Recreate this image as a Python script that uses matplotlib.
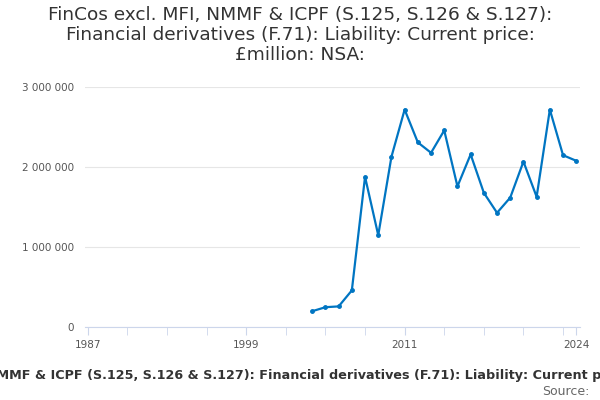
import matplotlib
matplotlib.use("Agg")
import matplotlib.pyplot as plt
from matplotlib.ticker import FuncFormatter

years = list(range(2004, 2025))
values = [0.20, 0.25, 0.26, 0.46, 1.88, 1.15, 2.13, 2.72, 2.31, 2.18, 2.46, 1.76,
          2.16, 1.68, 1.43, 1.62, 2.07, 1.63, 2.72, 2.15, 2.08]
values = [v * 1e6 for v in values]
label_years = [1987, 1999, 2011, 2024]

fig = plt.figure(figsize=(6, 4), dpi=100)
ax = fig.add_axes([0.142, 0.182, 0.825, 0.6])
ax.plot(years, values, color="#0075c2", lw=1.6, marker="o", ms=2.5)
ax.set_xlim(1986.8, 2024.3)
ax.set_ylim(0, 3e6)
ax.set_yticks([0, 1e6, 2e6, 3e6])
ax.yaxis.set_major_formatter(FuncFormatter(lambda v, p: f"{int(v):,}".replace(",", " ")))
ax.set_xticks(list(range(1987, 2024, 3)) + [2024], minor=True)
ax.set_xticks(label_years)
ax.tick_params(axis="x", which="both", length=6, color="#ccd6eb", labelsize=7.5, labelcolor="#555")
ax.tick_params(axis="y", length=0, labelsize=7.5, labelcolor="#555", pad=8)
ax.grid(axis="y", color="#e6e6e6", lw=0.8)
for s in ["top", "right", "left"]:
    ax.spines[s].set_visible(False)
ax.spines["bottom"].set_color("#ccd6eb")
fig.text(0.5, 0.985, "FinCos excl. MFI, NMMF & ICPF (S.125, S.126 & S.127):\nFinancial derivatives (F.71): Liability: Current price:\n£million: NSA:",
         ha="center", va="top", fontsize=13.3, color="#333", linespacing=1.15)
fig.text(0.5, 0.06, "FinCos excl. MFI, NMMF & ICPF (S.125, S.126 & S.127): Financial derivatives (F.71): Liability: Current price: £million: NSA:",
         ha="center", va="center", fontsize=9.2, color="#333", weight="bold")
fig.text(0.982, 0.022, "Source:", ha="right", va="center", fontsize=9, color="#666")
fig.savefig("out.png")
